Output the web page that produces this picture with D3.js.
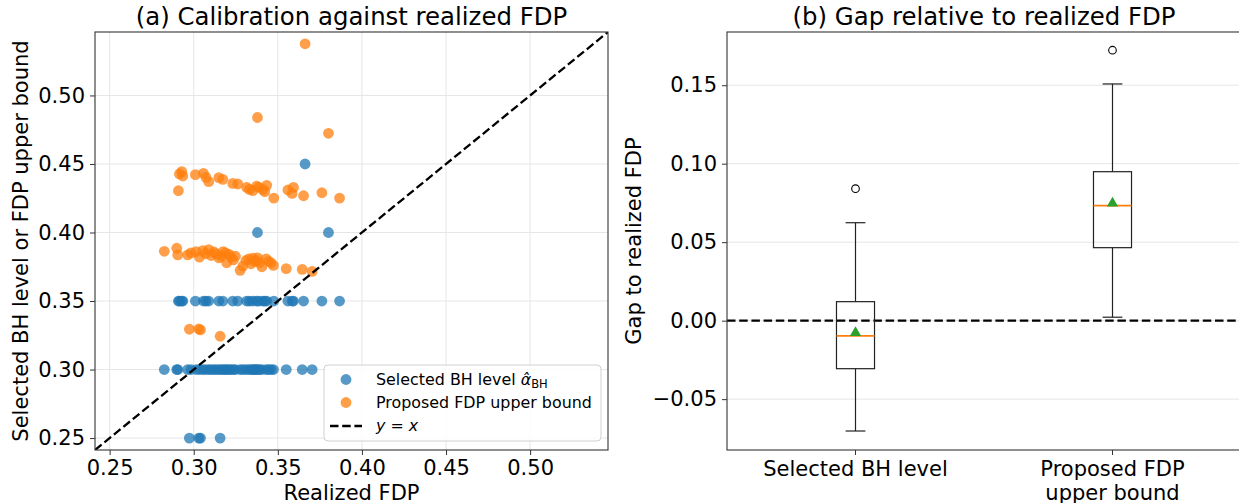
<!DOCTYPE html>
<html><head><meta charset="utf-8">
<script src="https://cdn.jsdelivr.net/npm/d3@7"></script>
<style>
body{margin:0;background:#fff;}
svg{display:block;font-family:"DejaVu Sans",sans-serif;}
</style></head>
<body><svg id="c" width="1239" height="503"></svg>
<script>
// ---------- data ----------
// each run: realized FDP, selected BH level, proposed FDP upper bound
const realizedFDP = [
 0.2974,0.3030,0.3040,0.3157,
 0.2825,0.2899,0.2905,0.2964,0.2984,0.3014,0.3034,0.3054,0.3070,0.3089,0.3103,0.3120,0.3133,0.3150,0.3163,0.3175,0.3189,0.3196,0.3210,0.3222,0.3235,0.3248,0.3276,0.3292,0.3310,0.3327,0.3341,0.3351,0.3360,0.3371,0.3380,0.3391,0.3405,0.3431,0.3445,0.3460,0.3474,0.3550,0.3645,0.3704,
 0.2909,0.2915,0.2929,0.2935,0.3010,0.3058,0.3073,0.3089,0.3149,0.3173,0.3232,0.3262,0.3315,0.3331,0.3351,0.3375,0.3387,0.3411,0.3422,0.3434,0.3476,0.3560,0.3585,0.3593,0.3653,0.3762,0.3867,
 0.3379,0.3801,
 0.3662
];
const bhLevel = [
 0.25,0.25,0.25,0.25,
 0.30,0.30,0.30,0.30,0.30,0.30,0.30,0.30,0.30,0.30,0.30,0.30,0.30,0.30,0.30,0.30,0.30,0.30,0.30,0.30,0.30,0.30,0.30,0.30,0.30,0.30,0.30,0.30,0.30,0.30,0.30,0.30,0.30,0.30,0.30,0.30,0.30,0.30,0.30,0.30,
 0.35,0.35,0.35,0.35,0.35,0.35,0.35,0.35,0.35,0.35,0.35,0.35,0.35,0.35,0.35,0.35,0.35,0.35,0.35,0.35,0.35,0.35,0.35,0.35,0.35,0.35,0.35,
 0.40,0.40,
 0.45
];
const upperBound = [
 0.3294,0.3296,0.3290,0.3243,
 0.3863,0.3885,0.3837,0.3837,0.3851,0.3861,0.3820,0.3868,0.3845,0.3875,0.3832,0.3858,0.3844,0.3815,0.3827,0.3860,0.3851,0.3779,0.3840,0.3820,0.3800,0.3827,0.3724,0.3755,0.3795,0.3808,0.3772,0.3812,0.3790,0.3796,0.3815,0.3779,0.3750,0.3808,0.3790,0.3779,0.3760,0.3736,0.3731,0.3716,
 0.4305,0.4427,0.4444,0.4412,0.4422,0.4432,0.4402,0.4371,0.4400,0.4388,0.4358,0.4354,0.4329,0.4315,0.4305,0.4339,0.4329,0.4315,0.4298,0.4344,0.4251,0.4310,0.4285,0.4329,0.4268,0.4290,0.4251,
 0.4839,0.4724,
 0.5377
];
const scatterTicks = [0.25,0.30,0.35,0.40,0.45,0.50];
const seriesNames = ["Selected BH level", "Proposed FDP upper bound"];
// box plot of gap = value - realized FDP
const boxCategories = [["Selected BH level"], ["Proposed FDP", "upper bound"]];
const boxPositions = [1, 2];
const boxQ1 = [-0.0306, 0.0465];
const boxMedian = [-0.0097, 0.0733];
const boxQ3 = [0.0121, 0.0949];
const boxMean = [-0.0070, 0.0754];
const whiskerLow = [-0.0703, 0.0022];
const whiskerHigh = [0.0624, 0.1508];
const fliers = [[0.0841], [0.1723]];
const gapTicks = [-0.05, 0.00, 0.05, 0.10, 0.15];

// ---------- drawing ----------
const svg = d3.select("#c");
const BLUE = "#1f77b4", ORANGE = "#ff7f0e", GREEN = "#2ca02c";
const GRID = "#e6e6e6", SPINE = "#333";
const fmt = d3.format(".2f");
const TICKFS = 21, LABELFS = 21, TITLEFS = 24.4, LEGFS = 15.9;

// ===== Panel (a) =====
const A = {l:95, r:608, t:32, b:450};
const x = d3.scaleLinear().domain([0.2413, 0.5463]).range([A.l, A.r]);
const y = d3.scaleLinear().domain([0.2413, 0.5463]).range([A.b, A.t]);
const ga = svg.append("g");
ga.append("clipPath").attr("id","clipA").append("rect")
  .attr("x",A.l).attr("y",A.t).attr("width",A.r-A.l).attr("height",A.b-A.t);
// grid
ga.append("g").selectAll("line").data(scatterTicks).join("line")
  .attr("x1",d=>x(d)).attr("x2",d=>x(d)).attr("y1",A.t).attr("y2",A.b)
  .attr("stroke",GRID).attr("stroke-width",1);
ga.append("g").selectAll("line").data(scatterTicks).join("line")
  .attr("y1",d=>y(d)).attr("y2",d=>y(d)).attr("x1",A.l).attr("x2",A.r)
  .attr("stroke",GRID).attr("stroke-width",1);
// points
const runs = realizedFDP.map((f,i)=>({f, bh:bhLevel[i], ub:upperBound[i]}));
const pts = ga.append("g").attr("clip-path","url(#clipA)");
pts.selectAll("circle.bh").data(runs).join("circle").attr("class","bh")
  .attr("cx",d=>x(d.f)).attr("cy",d=>y(d.bh)).attr("r",5.4)
  .attr("fill",BLUE).attr("fill-opacity",0.75);
pts.selectAll("circle.ub").data(runs).join("circle").attr("class","ub")
  .attr("cx",d=>x(d.f)).attr("cy",d=>y(d.ub)).attr("r",5.4)
  .attr("fill",ORANGE).attr("fill-opacity",0.75);
// y = x
const dom = x.domain();
pts.append("line").attr("x1",x(dom[0])).attr("y1",y(dom[0])).attr("x2",x(dom[1])).attr("y2",y(dom[1]))
  .attr("stroke","#000").attr("stroke-width",2.3).attr("stroke-dasharray","8.5,3.7");
// axes
const xAxA = d3.axisBottom(x).tickValues(scatterTicks).tickFormat(fmt).tickSizeOuter(0).tickSize(5).tickPadding(5);
const yAxA = d3.axisLeft(y).tickValues(scatterTicks).tickFormat(fmt).tickSizeOuter(0).tickSize(5).tickPadding(5);
const gxA = ga.append("g").attr("transform",`translate(0,${A.b})`).call(xAxA);
const gyA = ga.append("g").attr("transform",`translate(${A.l},0)`).call(yAxA);
[gxA,gyA].forEach(g=>{
  g.select(".domain").remove();
  g.selectAll(".tick line").attr("stroke",SPINE);
  g.selectAll(".tick text").attr("font-size",TICKFS).attr("fill","#000").attr("font-family","DejaVu Sans");
});
// frame
ga.append("rect").attr("x",A.l).attr("y",A.t).attr("width",A.r-A.l).attr("height",A.b-A.t)
  .attr("fill","none").attr("stroke",SPINE).attr("stroke-width",1.1);
// titles / labels
ga.append("text").attr("x",(A.l+A.r)/2).attr("y",25).attr("text-anchor","middle")
  .attr("font-size",TITLEFS).text("(a) Calibration against realized FDP");
ga.append("text").attr("x",(A.l+A.r)/2).attr("y",500).attr("text-anchor","middle")
  .attr("font-size",LABELFS).text("Realized FDP");
ga.append("text").attr("transform",`translate(28,${(A.t+A.b)/2}) rotate(-90)`).attr("text-anchor","middle")
  .attr("font-size",LABELFS).text("Selected BH level or FDP upper bound");
// legend
const lg = ga.append("g");
lg.append("rect").attr("x",324).attr("y",365).attr("width",277).attr("height",76).attr("rx",4)
  .attr("fill","#fff").attr("fill-opacity",0.85).attr("stroke","#d0d0d0").attr("stroke-width",1);
lg.append("circle").attr("cx",346).attr("cy",379.5).attr("r",5.4).attr("fill",BLUE).attr("fill-opacity",0.75);
lg.append("circle").attr("cx",346).attr("cy",402.5).attr("r",5.4).attr("fill",ORANGE).attr("fill-opacity",0.75);
lg.append("line").attr("x1",330).attr("x2",362).attr("y1",426).attr("y2",426)
  .attr("stroke","#000").attr("stroke-width",2.3).attr("stroke-dasharray","8.5,3.7");
const t1 = lg.append("text").attr("x",376).attr("y",385).attr("font-size",LEGFS);
t1.append("tspan").text(seriesNames[0] + " ");
t1.append("tspan").attr("font-style","italic").text("α\u0302");
t1.append("tspan").attr("font-size",11.5).attr("dy",3).text("BH");
lg.append("text").attr("x",376).attr("y",408).attr("font-size",LEGFS).text(seriesNames[1]);
const t3 = lg.append("text").attr("x",376).attr("y",431).attr("font-size",LEGFS);
t3.append("tspan").attr("font-style","italic").text("y");
t3.append("tspan").text(" = ");
t3.append("tspan").attr("font-style","italic").text("x");

// ===== Panel (b) =====
const B = {l:727, r:1241, t:32, b:450};
const xb = d3.scaleLinear().domain([0.5, 2.5]).range([B.l, B.r]);
const yb = d3.scaleLinear().domain([-0.0824, 0.1839]).range([B.b, B.t]);
const gb = svg.append("g");
gb.append("g").selectAll("line").data(gapTicks).join("line")
  .attr("y1",d=>yb(d)).attr("y2",d=>yb(d)).attr("x1",B.l).attr("x2",B.r)
  .attr("stroke",GRID).attr("stroke-width",1);
// zero line
gb.append("line").attr("x1",B.l).attr("x2",B.r).attr("y1",yb(0)).attr("y2",yb(0))
  .attr("stroke","#000").attr("stroke-width",2.3).attr("stroke-dasharray","8.5,3.7");
const bw = 0.148, cw = 0.077;
const boxes = boxPositions.map((p,i)=>({p,i}));
const bg = gb.append("g").selectAll("g").data(boxes).join("g");
// whiskers
bg.append("line").attr("x1",d=>xb(d.p)).attr("x2",d=>xb(d.p)).attr("y1",d=>yb(boxQ3[d.i])).attr("y2",d=>yb(whiskerHigh[d.i]))
  .attr("stroke","#222").attr("stroke-width",1.2);
bg.append("line").attr("x1",d=>xb(d.p)).attr("x2",d=>xb(d.p)).attr("y1",d=>yb(boxQ1[d.i])).attr("y2",d=>yb(whiskerLow[d.i]))
  .attr("stroke","#222").attr("stroke-width",1.2);
bg.append("line").attr("x1",d=>xb(d.p-cw/2)).attr("x2",d=>xb(d.p+cw/2)).attr("y1",d=>yb(whiskerHigh[d.i])).attr("y2",d=>yb(whiskerHigh[d.i]))
  .attr("stroke","#222").attr("stroke-width",1.2);
bg.append("line").attr("x1",d=>xb(d.p-cw/2)).attr("x2",d=>xb(d.p+cw/2)).attr("y1",d=>yb(whiskerLow[d.i])).attr("y2",d=>yb(whiskerLow[d.i]))
  .attr("stroke","#222").attr("stroke-width",1.2);
// box
bg.append("rect").attr("x",d=>xb(d.p-bw/2)).attr("width",d=>xb(d.p+bw/2)-xb(d.p-bw/2))
  .attr("y",d=>yb(boxQ3[d.i])).attr("height",d=>yb(boxQ1[d.i])-yb(boxQ3[d.i]))
  .attr("fill","none").attr("stroke","#222").attr("stroke-width",1.2);
// median
bg.append("line").attr("x1",d=>xb(d.p-bw/2)).attr("x2",d=>xb(d.p+bw/2)).attr("y1",d=>yb(boxMedian[d.i])).attr("y2",d=>yb(boxMedian[d.i]))
  .attr("stroke",ORANGE).attr("stroke-width",1.7);
// mean
bg.append("path").attr("d",d3.symbol(d3.symbolTriangle,55))
  .attr("transform",d=>`translate(${xb(d.p)},${yb(boxMean[d.i])+1})`).attr("fill",GREEN);
// fliers
bg.selectAll("circle").data(d=>fliers[d.i].map(v=>({p:d.p,v}))).join("circle")
  .attr("cx",d=>xb(d.p)).attr("cy",d=>yb(d.v)).attr("r",3.8)
  .attr("fill","none").attr("stroke","#000").attr("stroke-width",1.1);
// axes
const yAxB = d3.axisLeft(yb).tickValues(gapTicks).tickFormat(fmt).tickSizeOuter(0).tickSize(5).tickPadding(5);
const gyB = gb.append("g").attr("transform",`translate(${B.l},0)`).call(yAxB);
gyB.select(".domain").remove();
gyB.selectAll(".tick line").attr("stroke",SPINE);
gyB.selectAll(".tick text").attr("font-size",TICKFS).attr("fill","#000").attr("font-family","DejaVu Sans");
const gxB = gb.append("g").attr("transform",`translate(0,${B.b})`);
gxB.selectAll("line").data(boxes).join("line").attr("x1",d=>xb(d.p)).attr("x2",d=>xb(d.p)).attr("y1",0).attr("y2",5).attr("stroke",SPINE);
gxB.selectAll("text").data(boxes).join("text").attr("x",d=>xb(d.p)).attr("y",26).attr("text-anchor","middle")
  .attr("font-size",TICKFS)
  .each(function(d){
    const t = d3.select(this);
    boxCategories[d.i].forEach((s,k)=>t.append("tspan").attr("x",xb(d.p)).attr("dy",k===0?0:24).text(s));
  });
// frame (left, top, bottom; right edge sits at the canvas edge)
gb.append("rect").attr("x",B.l).attr("y",B.t).attr("width",B.r-B.l).attr("height",B.b-B.t)
  .attr("fill","none").attr("stroke",SPINE).attr("stroke-width",1.1);
gb.append("text").attr("x",(B.l+B.r)/2).attr("y",25).attr("text-anchor","middle")
  .attr("font-size",TITLEFS).text("(b) Gap relative to realized FDP");
gb.append("text").attr("transform",`translate(641,${(B.t+B.b)/2}) rotate(-90)`).attr("text-anchor","middle")
  .attr("font-size",LABELFS).text("Gap to realized FDP");
</script></body></html>
